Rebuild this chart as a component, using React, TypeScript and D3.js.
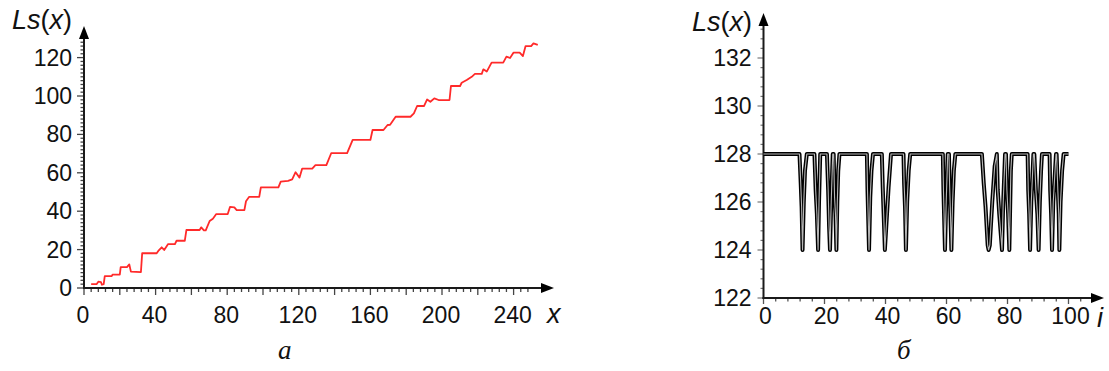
import React from "react";
import * as d3 from "d3";

// ---- Panel (а): Ls(x) vs x ----
const seriesAX = [4, 7, 8, 9.5, 10, 11, 11.6, 15.5, 16, 20, 20.5, 24, 25.3, 26.2, 31.8, 32.5, 40.6, 41.5, 43.4, 44.8, 47, 50.8, 51.7, 56.3, 57.2, 64.6, 65.5, 67, 68, 70.2, 72, 73.9, 80.3, 81.6, 84, 85.3, 89.6, 90.5, 92.3, 97.9, 98.8, 108.6, 109.9, 114, 116.3, 118.2, 120.4, 121.9, 127.5, 129.3, 135.4, 138.1, 147, 150.1, 160, 161.2, 167.3, 169.6, 171, 174.1, 182.4, 184.3, 186.1, 190, 191.7, 193.5, 195.7, 198.1, 204.2, 205, 210.1, 211, 213.8, 216.6, 218.4, 222.2, 223.1, 225, 227.7, 234.2, 236, 238, 240, 243.4, 245.2, 246.7, 249.8, 251.1, 253.5];
const seriesAY = [2, 2, 3.3, 3, 1.7, 2, 6.2, 6.2, 7, 7, 10.9, 10.9, 12.3, 8.5, 8.3, 18.1, 18.1, 19.3, 21.2, 19.8, 22.9, 22.9, 24.6, 24.6, 30.2, 30.2, 31.6, 30, 30, 34.9, 36.1, 38.5, 38.5, 42.3, 42, 40.6, 40.6, 45.2, 47.5, 47.5, 52.4, 52.4, 55.4, 55.8, 56.6, 60.3, 57.5, 62.2, 62.2, 64, 64, 70.2, 70.2, 77.1, 77.1, 82.3, 82.3, 84.9, 85, 89.2, 89.2, 90.9, 94.8, 94.8, 98.2, 97, 98.8, 97.9, 97.9, 105.2, 105.2, 106.9, 108.3, 110, 111.5, 111.5, 113.9, 112.7, 117.4, 117.4, 120.5, 119.8, 122.6, 122.6, 120.8, 126, 126, 127.4, 126.6];
const ticksAX = [0, 40, 80, 120, 160, 200, 240];
const ticksAY = [0, 20, 40, 60, 80, 100, 120];

// ---- Panel (б): Ls(x) vs i ----
const seriesBI = [0, 11.8, 12.2, 12.5, 12.8, 13.2, 13.6, 14.2, 16.7, 17.1, 17.5, 17.9, 18.2, 18.6, 20.8, 21.2, 21.5, 21.8, 22.2, 22.7, 23.0, 23.3, 23.6, 23.9, 24.2, 24.5, 24.9, 33.9, 34.1, 34.3, 34.6, 35.0, 35.4, 35.9, 38.8, 39.1, 39.4, 39.8, 40.4, 41.0, 41.8, 45.9, 46.1, 46.4, 46.7, 47.1, 47.6, 48.1, 58.8, 59.0, 59.2, 59.5, 59.9, 60.4, 60.8, 61.0, 61.3, 61.6, 62.0, 62.4, 62.9, 71.6, 72.2, 72.8, 73.5, 73.8, 74.2, 75.0, 75.8, 76.5, 76.8, 77.3, 78.2, 78.6, 79.2, 79.5, 79.8, 80.2, 80.6, 80.9, 81.1, 81.4, 86.6, 86.8, 87.1, 87.4, 87.8, 88.5, 88.8, 89.3, 89.8, 90.2, 90.6, 91.0, 91.3, 93.8, 94.0, 94.3, 94.6, 95.0, 95.9, 96.1, 96.5, 96.8, 97.0, 97.4, 97.9, 98.4, 100];
const seriesBV = [128, 128, 126.8, 125.8, 124, 126, 127.3, 128, 128, 126.5, 125.5, 124, 126, 128, 128, 126.5, 125, 124, 126, 128, 128, 126.2, 125.5, 124, 126, 127.3, 128, 128, 126.5, 125.5, 124, 126.2, 127.3, 128, 128, 126.6, 125.5, 124, 125.3, 126.6, 128, 128, 126.8, 125.8, 124, 126, 127.3, 128, 128, 126.5, 125.5, 124, 126, 128, 128, 126.8, 125.5, 124, 126, 127.3, 128, 128, 126.8, 125.8, 124.2, 124, 124.2, 126, 127.5, 128, 126.5, 125.5, 124, 126, 128, 128, 126.5, 125.5, 124, 126, 127.3, 128, 128, 126.5, 125.5, 124, 126, 128, 128, 126.5, 125.5, 124, 126, 127.3, 128, 128, 126.5, 125.5, 124, 126, 128, 128, 126.5, 125.5, 124, 126, 127.3, 128, 128];
const ticksBX = [0, 20, 40, 60, 80, 100];
const ticksBY = [122, 124, 126, 128, 130, 132];

const SANS = "'Liberation Sans', Arial, sans-serif";
const SERIF = "'Liberation Serif', 'Times New Roman', serif";
const AX = "#1a1a1a";

function Arrow({ x, y, dir }: { x: number; y: number; dir: "up" | "right" }) {
  const p = dir === "up"
    ? `${x},${y} ${x - 5},${y + 13} ${x + 5},${y + 13}`
    : `${x},${y} ${x - 13},${y - 5} ${x - 13},${y + 5}`;
  return <polygon points={p} fill="#000" />;
}

function YLabel({ x, y }: { x: number; y: number }) {
  return (
    <text x={x} y={y} fontFamily={SANS} fontSize={27} fill="#111">
      <tspan fontStyle="italic">Ls</tspan>(<tspan fontStyle="italic">x</tspan>)
    </text>
  );
}

export default function App() {
  // panel a scales
  const ax = d3.scaleLinear().domain([0, 240]).range([84, 513.6]);
  const ay = d3.scaleLinear().domain([0, 120]).range([288, 57.6]);
  const lineA = d3.line<number>().x((_, i) => ax(seriesAX[i])).y((d) => ay(d));
  // panel b scales
  const bx = d3.scaleLinear().domain([0, 100]).range([763.5, 1068.5]);
  const by = d3.scaleLinear().domain([122, 132]).range([298, 58]);
  const lineB = d3.line<number>().x((_, i) => bx(seriesBI[i])).y((d) => by(d));

  const minorAX = d3.range(0, 252, 4);
  const minorAY = d3.range(0, 131, 2);
  const minorBX = d3.range(0, 108, 4);
  const minorBY = d3.range(122, 133.5, 0.4);

  return (
    <svg width={1109} height={371} style={{ position: "absolute", left: 0, top: 0, background: "#fff" }}>
      <rect width={1109} height={371} fill="#fff" />
      {/* ===== Panel a ===== */}
      <g>
        {minorAY.map((v) => (
          <line key={"may" + v} x1={ax(0) - (v % 20 === 0 ? 7 : 3.5)} x2={ax(0)} y1={ay(v)} y2={ay(v)} stroke="#444" strokeWidth={1.3} />
        ))}
        {minorAX.map((v) => (
          <line key={"max" + v} x1={ax(v)} x2={ax(v)} y1={ay(0)} y2={ay(0) + (v % 20 === 0 ? 7 : 4)} stroke="#444" strokeWidth={1.3} />
        ))}
        <line x1={ax(0)} x2={ax(0)} y1={ay(0) + 1} y2={36} stroke={AX} strokeWidth={2} />
        <line x1={ax(0) - 1} x2={545} y1={ay(0)} y2={ay(0)} stroke={AX} strokeWidth={2} />
        <Arrow x={ax(0)} y={26} dir="up" />
        <Arrow x={554} y={ay(0)} dir="right" />
        {ticksAY.map((v) => (
          <text key={"tay" + v} x={ax(0) - 12} y={ay(v) + 8} textAnchor="end" fontFamily={SANS} fontSize={23} fill="#111">{v}</text>
        ))}
        {ticksAX.map((v) => (
          <text key={"tax" + v} x={ax(v) - 1} y={ay(0) + 35} textAnchor="middle" fontFamily={SANS} fontSize={23} fill="#111">{v}</text>
        ))}
        <YLabel x={12} y={29} />
        <text x={547} y={323} fontFamily={SANS} fontSize={27} fontStyle="italic" fill="#111">x</text>
        <path d={lineA(seriesAY) ?? ""} fill="none" stroke="#ff2a2a" strokeWidth={1.8} strokeLinejoin="round" />
        <text x={278} y={359} fontFamily={SERIF} fontSize={27} fontStyle="italic" fill="#111">а</text>
      </g>
      {/* ===== Panel b ===== */}
      <g>
        {minorBY.map((v) => {
          const major = Math.abs(v - Math.round(v)) < 1e-6 && Math.round(v) % 2 === 0;
          return <line key={"mby" + v} x1={bx(0) - (major ? 6 : 3)} x2={bx(0)} y1={by(v)} y2={by(v)} stroke="#777" strokeWidth={1.2} />;
        })}
        {minorBX.map((v) => (
          <line key={"mbx" + v} x1={bx(v)} x2={bx(v)} y1={by(122)} y2={by(122) + (v % 20 === 0 ? 6 : 3.5)} stroke="#555" strokeWidth={1.3} />
        ))}
        <line x1={bx(0)} x2={bx(0)} y1={by(122) + 1} y2={24} stroke={AX} strokeWidth={2} />
        <line x1={bx(0) - 1} x2={1095} y1={by(122)} y2={by(122)} stroke={AX} strokeWidth={2} />
        <Arrow x={bx(0)} y={13} dir="up" />
        <Arrow x={1104} y={by(122)} dir="right" />
        {ticksBY.map((v) => (
          <text key={"tby" + v} x={bx(0) - 12} y={by(v) + 8} textAnchor="end" fontFamily={SANS} fontSize={23} fill="#111">{v}</text>
        ))}
        {ticksBX.map((v) => (
          <text key={"tbx" + v} x={bx(v) + 2} y={by(122) + 26} textAnchor="middle" fontFamily={SANS} fontSize={23} fill="#111">{v}</text>
        ))}
        <YLabel x={692} y={31} />
        <text x={1097} y={327} fontFamily={SANS} fontSize={27} fontStyle="italic" fill="#111">i</text>
        <path d={lineB(seriesBV) ?? ""} fill="none" stroke="#000" strokeWidth={4} strokeLinejoin="round" />
        <path d={lineB(seriesBV) ?? ""} fill="none" stroke="#b8b8b8" strokeWidth={1.1} strokeLinejoin="round" />
        <text x={897} y={359} fontFamily={SERIF} fontSize={27} fontStyle="italic" fill="#111">б</text>
      </g>
    </svg>
  );
}
